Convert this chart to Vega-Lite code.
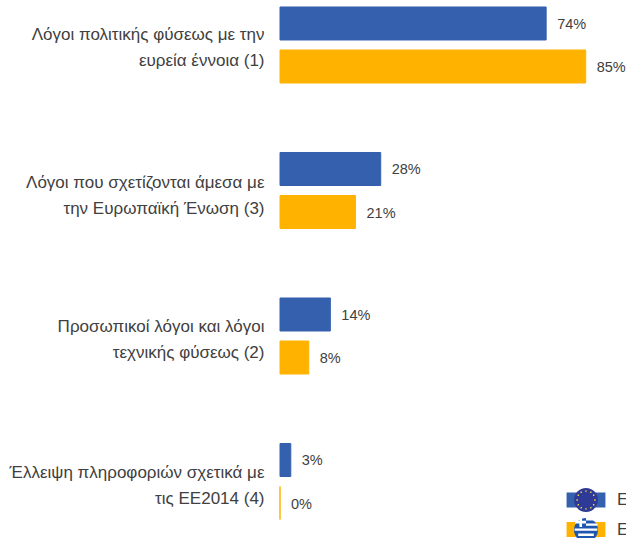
{"$schema":"https://vega.github.io/schema/vega-lite/v6.json","autosize":"none","width":346,"height":538,"padding":{"left":280,"top":0,"right":0,"bottom":0},"background":"white","config":{"view":{"stroke":null},"font":"Liberation Sans"},
"data":{"values":[
{"reason":"Λόγοι πολιτικής φύσεως με την|ευρεία έννοια (1)","series":"ΕΕ28","value":74,"label":"74%"},
{"reason":"Λόγοι πολιτικής φύσεως με την|ευρεία έννοια (1)","series":"Ελλάδα","value":85,"label":"85%"},
{"reason":"Λόγοι που σχετίζονται άμεσα με|την Ευρωπαϊκή Ένωση (3)","series":"ΕΕ28","value":28,"label":"28%"},
{"reason":"Λόγοι που σχετίζονται άμεσα με|την Ευρωπαϊκή Ένωση (3)","series":"Ελλάδα","value":21,"label":"21%"},
{"reason":"Προσωπικοί λόγοι και λόγοι|τεχνικής φύσεως (2)","series":"ΕΕ28","value":14,"label":"14%"},
{"reason":"Προσωπικοί λόγοι και λόγοι|τεχνικής φύσεως (2)","series":"Ελλάδα","value":8,"label":"8%"},
{"reason":"Έλλειψη πληροφοριών σχετικά με|τις ΕΕ2014 (4)","series":"ΕΕ28","value":3,"label":"3%"},
{"reason":"Έλλειψη πληροφοριών σχετικά με|τις ΕΕ2014 (4)","series":"Ελλάδα","value":0,"label":"0%"}
]},
"encoding":{
"y":{"field":"reason","type":"nominal","sort":null,"title":null,"scale":{"range":[-27.75,554.25],"paddingInner":0,"paddingOuter":0},
"axis":{"domain":false,"ticks":false,"labelPadding":16,"labelFontSize":17,"labelColor":"#404040","labelLimit":300,"labelLineHeight":26,"labelBaseline":"middle","labelAlign":"right","labelExpr":"split(datum.label,'|')","labelOffset":{"expr":"datum.index<0.1?-10:(datum.index<0.5?-7.5:(datum.index<0.9?-9:-9))"}}},
"x":{"field":"value","type":"quantitative","title":null,"scale":{"domain":[0,96.2],"nice":false},"axis":null}
},
"layer":[
{"mark":{"type":"bar","strokeWidth":1},"encoding":{
"yOffset":{"field":"series","sort":null,"scale":{"paddingInner":0.2326,"paddingOuter":0.808}},
"fill":{"field":"series","type":"nominal","sort":null,"scale":{"range":["#3560AD","#FFB300"]},"legend":{"orient":"none","legendX":294,"legendY":488,"title":null,"padding":0,"symbolType":"M-1.62,-.62H1.62V.62H-1.62Z","symbolSize":576,"symbolStrokeWidth":0,"rowPadding":9.5,"labelOffset":19,"labelFontSize":17,"labelColor":"#404040","labelLimit":100}},
"stroke":{"field":"series","type":"nominal","sort":null,"scale":{"range":["#3560AD","#FFB300"]},"legend":null}
}},
{"mark":{"type":"text","align":"left","baseline":"middle","dx":11,"dy":1.5,"fontSize":14.5,"color":"#404040"},"encoding":{
"yOffset":{"field":"series","sort":null,"scale":{"paddingInner":0.2326,"paddingOuter":0.808}},
"text":{"field":"label","type":"nominal"}
}},
{"mark":{"type":"point","filled":true,"opacity":0},"encoding":{
"fill":{"field":"series","type":"nominal","sort":null,"scale":{"range":["#2F3A96","#1F57B0"]},"legend":{"orient":"none","legendX":294,"legendY":488,"title":null,"padding":0,"symbolType":"M-1,0A1,1,0,1,1,1,0A1,1,0,1,1,-1,0Z","symbolSize":576,"symbolStrokeWidth":0,"symbolOpacity":1,"rowPadding":6,"labelOffset":19,"labelFontSize":17,"labelExpr":"''"}}
}},
{"mark":{"type":"point","filled":true,"opacity":0},"encoding":{
"fill":{"field":"series","type":"nominal","sort":null,"scale":{"range":["#E8D44A","transparent"]},"legend":{"orient":"none","legendX":294,"legendY":488,"title":null,"padding":0,"symbolType":"M-.06,-.8h.12v.12h-.12zM-.06,.68h.12v.12h-.12zM-.8,-.06h.12v.12h-.12zM.68,-.06h.12v.12h-.12zM.34,-.7h.12v.12h-.12zM-.46,-.7h.12v.12h-.12zM.34,.58h.12v.12h-.12zM-.46,.58h.12v.12h-.12zM.58,-.46h.12v.12h-.12zM-.7,-.46h.12v.12h-.12zM.58,.34h.12v.12h-.12zM-.7,.34h.12v.12h-.12z","symbolSize":576,"symbolStrokeWidth":0,"symbolOpacity":1,"rowPadding":6,"labelOffset":19,"labelFontSize":17,"labelExpr":"''"}}
}},
{"mark":{"type":"point","filled":true,"opacity":0},"encoding":{
"fill":{"field":"series","type":"nominal","sort":null,"scale":{"range":["transparent","#FFFFFF"]},"legend":{"orient":"none","legendX":294,"legendY":488,"title":null,"padding":0,"symbolType":"M-.55,-.85H-.33V0H-.55ZM-.9,-.52H0V-.3H-.9ZM0,-.75H.66V-.55H0ZM0,-.3H.95V-.1H0ZM-.95,.12H.95V.32H-.95ZM-.65,.55H.65V.75H-.65Z","symbolSize":576,"symbolStrokeWidth":0,"symbolOpacity":1,"rowPadding":6,"labelOffset":19,"labelFontSize":17,"labelExpr":"''"}}
}}
],
"resolve":{"scale":{"fill":"independent"},"legend":{"fill":"independent"}}}
